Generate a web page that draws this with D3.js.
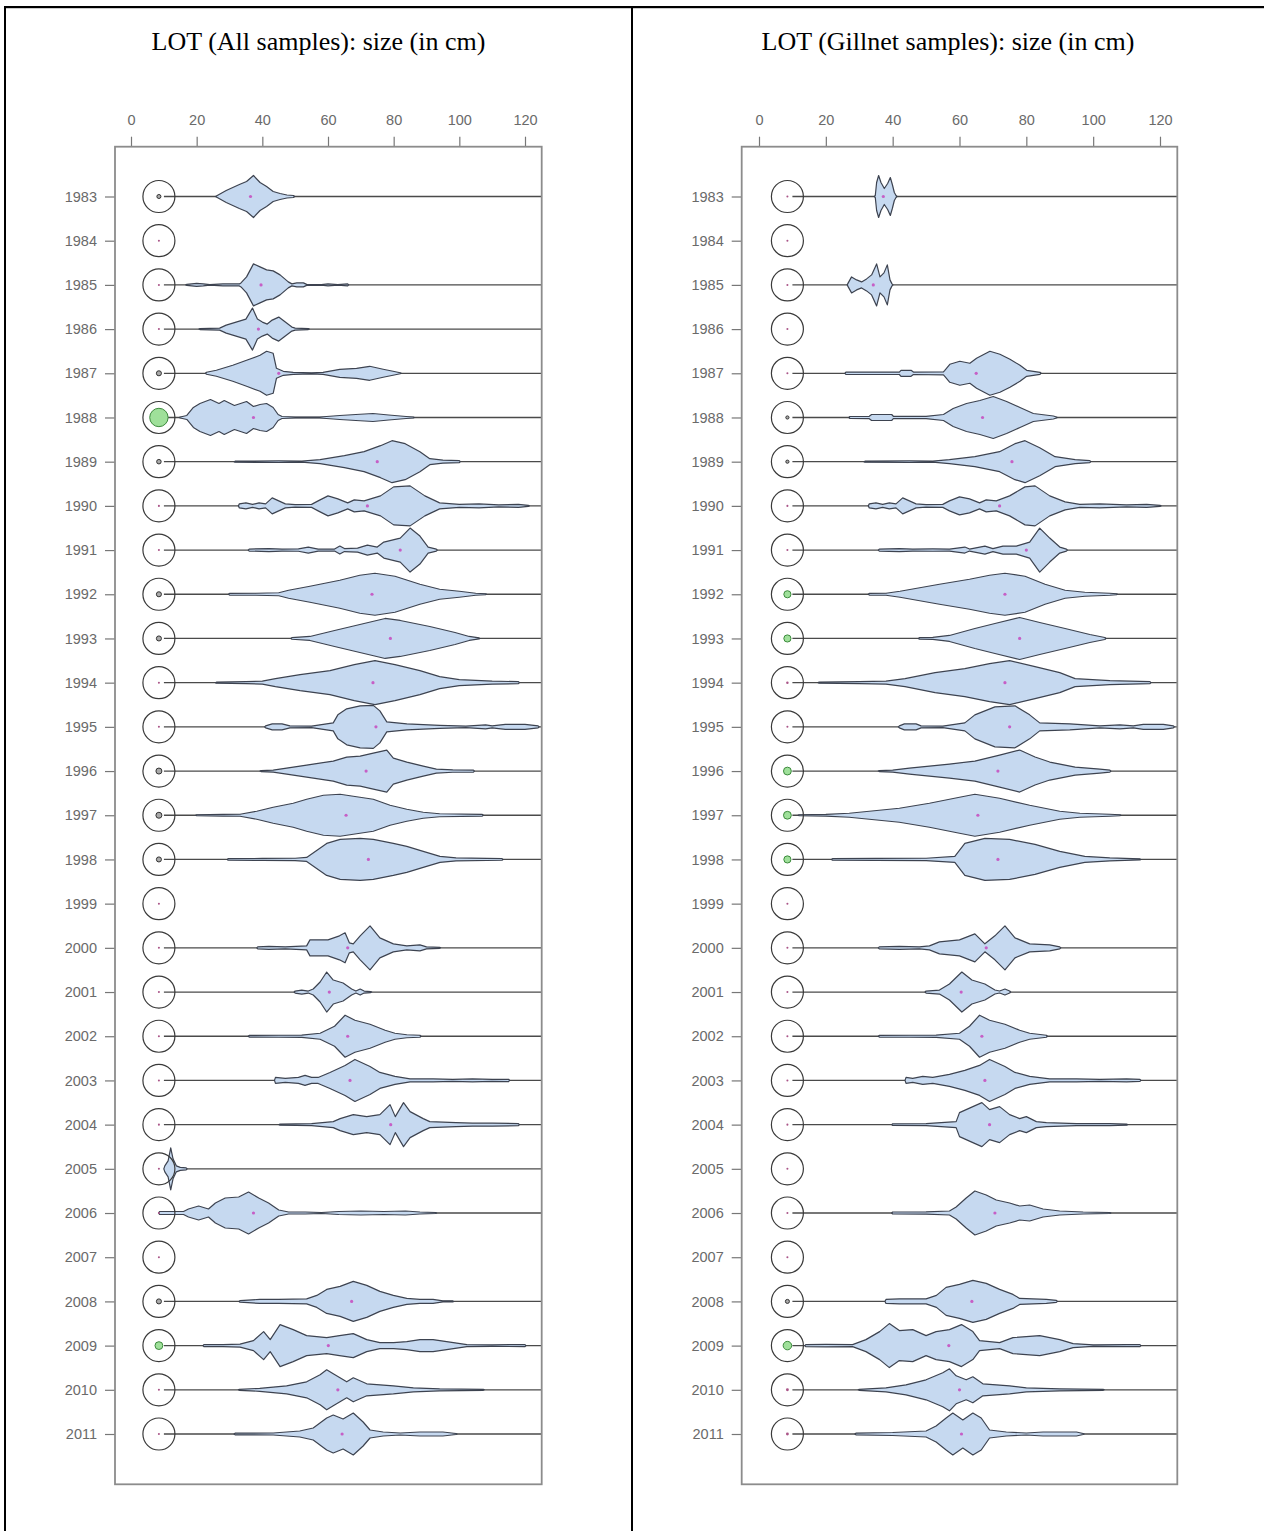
<!DOCTYPE html>
<html lang="en">
<head>
<meta charset="UTF-8">
<title>LOT size beanplots</title>
<script src="https://d3js.org/d3.v7.min.js"></script>
<style>
    body { margin: 0; background: #fff; }
    svg { display: block; }
</style>
</head>
<body>
<svg id="chart" width="1264" height="1531"></svg>
<script>
// ---- data ----
var years = d3.range(1983, 2012);
var sizeTicks = [0, 20, 40, 60, 80, 100, 120];
var titles = ["LOT (All samples): size (in cm)", "LOT (Gillnet samples): size (in cm)"];

// bean profiles, one per year: [size cm, relative density]; null = no data
var allBeans = [
  [[26,0.5],[29,6],[33,12],[35.2,15],[37.3,21],[39.3,14],[41.3,10],[43.3,5],[45.4,3],[47.5,1.5],[49.5,1]],
  null,
  [[17,0.5],[20,1.5],[22,1],[24,0.3],[28,1],[33,1],[33.5,2],[35.2,8],[37.3,21],[39.3,18],[41.3,15],[43.3,14],[45.4,10],[47.9,3],[49,1],[50.5,2],[52.5,2],[53.5,0.5],[58,0.3],[60,1],[63,0.3],[66,1]],
  [[21,0.5],[27,1],[29,4],[32,7],[35,10],[37,21],[38.5,10],[40,7],[41.5,5],[43,9],[45,12],[47,7],[49,2],[50,1],[54,0.5]],
  [[23,1],[26,3],[31,8],[35.2,13],[39.3,18],[41.3,22],[43.3,20],[44.3,5],[46.4,2],[49.4,1],[55,0.5],[58.5,1],[63.6,4],[68.7,5],[72.7,7],[76.8,4],[79.8,2],[82,0.5]],
  [[15,0.5],[17,2],[19,10],[21,14],[24.2,18],[26.8,14],[28.4,17],[31.5,12],[35.2,16],[37.3,11],[39.3,13],[41.3,14],[43.3,10],[44.8,3],[46,1],[50,0.5],[57.5,0.5],[63.6,2],[68.5,3],[73.7,4],[78.5,2.5],[83.8,1],[86,0.5]],
  [[31.7,0.5],[45,0.8],[52,0.5],[57.6,2],[65,6],[71,10],[76,16],[79.5,21],[83.5,18],[88,10],[91,3],[95,1.5],[100,1]],
  [[33,2],[35,3],[37,1.5],[39,3],[41,2],[43,8],[45,5],[47,2],[50,1.2],[55,1.5],[57,5],[60,10],[63,7],[66,3],[68,6],[71,5],[76,10],[80,19],[85,20],[89.5,10],[94,3],[100,1.5],[106,2],[112,1],[118,1.5],[121,0.5]],
  [[36,1],[42,1.5],[46,1],[51,1.2],[54,3],[57,1],[62,1],[63.6,4],[65,1.5],[69,2],[72,5],[75,3],[77,8],[82,12],[85,22],[88,14],[90.5,3],[93,1]],
  [[30,0.8],[38,1],[45,1.5],[48,4],[54.5,8],[63.6,14],[69.7,19],[74.3,21],[80.4,18],[88,10],[94,5],[100,3],[105,1],[108,0.5]],
  [[49,0.8],[54.5,2],[62,8],[69.7,14],[77.4,20],[82,18],[91,12],[98.7,6],[103,2],[106,0.5]],
  [[26,0.5],[35,1],[40,1.5],[44,4],[51.5,8],[60.6,12],[68,18],[74.3,22],[80.4,18],[88,12],[94,6],[100,3],[110,1.5],[118,1]],
  [[41,1],[43,3],[46,3],[48.4,1],[55,0.8],[61.6,4],[63,12],[65.7,18],[69.8,21],[73.8,21.5],[75.8,16],[77.9,5],[84,3],[94,1.5],[102,0.8],[108,2],[110,1],[114,2.5],[120,2.5],[124,1]],
  [[39.6,0.5],[43.3,1],[47.4,3],[53.5,6],[61.6,10],[65.7,14],[69.8,15],[73.8,18],[77.9,21],[79.9,13],[84,9],[89,5],[93,2],[98,1.2],[104.3,1]],
  [[20,0.5],[28,0.8],[33.2,1],[38.3,4],[43.3,8],[49.4,12],[53.5,16],[58.6,20],[63.7,21],[67.7,19],[73.8,16],[78.9,10],[84,6],[89,3],[94,1.5],[107,0.8]],
  [[29.6,0.8],[40,1],[50,1.2],[53.5,2],[59.6,16],[63.7,20],[69.8,21],[73.8,20],[79.9,16],[84,13],[89,8],[94.1,3],[99,1.5],[113,0.8]],
  null,
  [[38.6,1],[42,1.5],[47,1],[53.5,2],[54.5,8],[60,8],[63.5,12],[65.2,15],[66.5,5],[67.7,4],[69.8,12],[72.8,22],[75.8,10],[79.9,4],[84,2],[88,3],[90,1],[94,0.5]],
  [[50,1],[52,2],[54,1],[55.5,3],[57.6,10],[59.6,20],[61.6,12],[64.6,9],[67.2,3],[68.5,1],[69.8,3],[71,1],[73,0.5]],
  [[36,0.8],[45,1],[52,1.2],[57.6,3],[62,10],[65.2,21],[68.2,16],[72.8,12],[77.4,6],[80.4,3],[84,1.5],[88,1]],
  [[44,3],[47,2],[51,3],[53,5],[55,3],[57,3],[60.6,8],[65.2,15],[68.2,21],[72.8,14],[75.8,8],[80.4,4],[85,1.5],[92,1.5],[98,1],[104,1.5],[110,1],[115,1.2]],
  [[45.4,0.5],[55,1],[61.6,3],[63.7,6],[67.7,10],[71.8,8],[75.8,10],[78.9,20],[80.5,8],[83,22],[85,13],[89,6],[91,3],[99,2],[104,1.5],[110,1.5],[118,1]],
  [[10.3,3],[11.3,8],[12.1,21],[12.8,10],[13.8,3],[15,1.5],[16.8,1]],
  [[8.7,1.5],[16,1.5],[17.5,4],[20.6,7],[23.6,4],[25.7,10],[28.7,15],[32.8,16],[35.8,21],[38.9,15],[41.9,10],[45,3],[48,1],[53.1,1],[58,0.5],[63.3,1.5],[70,2],[77,1.5],[83.6,2],[88,1],[92.8,0.5]],
  null,
  [[33.2,0.8],[39.2,2],[45,2],[53.5,2.5],[56.6,6],[59.6,12],[63.7,15],[67.7,20],[71.8,16],[75.8,10],[79.9,6],[84,3],[88,2],[92,2],[95,0.5],[98,0.5]],
  [[22.2,1],[28,1],[33.2,1.5],[37.3,5],[40.4,14],[42.4,6],[45.4,21],[49.4,16],[53.5,10],[59.6,8],[63.5,10],[67.7,12],[71.8,6],[75.8,3],[80,3],[84,4],[88,6],[92,6],[98.2,3],[102.3,1],[110,0.8],[120,1]],
  [[33,0.5],[39.2,1.5],[47.4,4],[53.5,8],[57.6,15],[59.6,20],[61.6,16],[65.7,8],[67.7,12],[71.8,6],[79.9,4],[86,2],[94,1],[107.3,0.5]],
  [[31.7,0.8],[43.3,1],[51.4,3],[55.5,6],[59.6,16],[61.6,19],[64.6,15],[67.7,21],[70.7,12],[72.8,4],[76.8,2],[82,1],[88,2],[95,2],[99,0.5]]
];

var gillBeans = [
  [[34.8,1],[35.2,14],[35.8,21],[36.5,14],[37.5,8],[38.5,13],[39.3,19],[39.9,12],[40.5,4],[41,1]],
  null,
  [[26.7,2],[27.7,8],[29.2,5],[30.7,3],[32.2,6],[33.7,10],[35.2,21],[36.2,8],[37.4,12],[38.4,20],[39.2,5],[39.8,1]],
  null,
  [[26,1.2],[34,1.2],[42,1.2],[42.5,3],[45.5,3],[46.2,1.2],[55.2,1.5],[55.6,3],[57.1,9],[60.1,12],[63.1,10],[65.1,15],[69.1,22],[72.1,19],[75.1,14],[78.1,8],[80.1,3],[84.1,1]],
  [[27.2,1],[33,1.2],[33.7,3],[39.7,3],[40.2,1.2],[50,1.2],[55.2,3],[58.1,9],[62.1,14],[66.1,17],[70.1,21],[74.1,16],[78.1,10],[82.1,4],[88.1,1.5],[89,0.5]],
  [[31.7,0.5],[45,0.8],[52,0.5],[57,2],[64.6,5],[72,10],[76.6,18],[79.6,21],[84,14],[88.6,5],[94.6,2],[99,1]],
  [[33,2],[35,3],[37,1.5],[39,3],[41,2],[43,8],[45,5],[47,2],[50,1.2],[55,1.5],[57,5],[60,9],[63,7],[66,3],[68,6],[71,5],[75,10],[79.6,19],[82.6,20],[87,10],[91.6,4],[96,1.5],[102,2],[110,1],[116,1.5],[120,0.5]],
  [[36,1],[42,1.5],[46,1],[52,1.2],[57,1],[61.6,3],[63,1],[67.6,4],[70,1.5],[73,4],[77,4],[81,8],[84,22],[87,12],[90,3],[92,1]],
  [[33,0.8],[38,1],[42.2,3],[54,10],[63,15],[69,19],[73.6,21],[79.6,18],[85.6,10],[91.6,4],[97.5,2],[105,1],[107,0.5]],
  [[48,0.8],[52,1],[57,3],[64.6,10],[70.6,15],[78,21],[84,16],[91.6,10],[99,4],[103.5,1]],
  [[18,0.5],[30,1],[38,1.5],[43.7,4],[52.7,10],[61.6,14],[69,19],[75,22],[82.6,16],[90,10],[94.6,4],[105,2],[117,1]],
  [[42,1],[43.5,3],[47,3],[48.5,1],[55,0.8],[61.6,4],[64.6,12],[70.6,20],[76.6,21],[81,12],[84,4],[93,3],[102,1],[108,2],[112,1],[115,2.5],[121,2.5],[124,1]],
  [[36,0.5],[40,1],[45,3],[57,7],[64.6,10],[72,16],[78,21],[82.6,14],[87,9],[94.6,4],[102,2],[105,1]],
  [[12,0.5],[20,0.8],[27,2],[42,7],[51,12],[60,18],[64.6,21],[72,17],[81,10],[90,4],[96,2],[105,1],[108,0.5]],
  [[22,0.8],[35,1],[50,1.2],[58.6,3],[61.6,16],[67.6,21],[75,20],[82.6,15],[90,8],[97.5,3],[105,1.5],[114,0.5]],
  null,
  [[36,1],[42,1.5],[48,1],[51,2],[54,6],[60,8],[64.6,14],[67.6,4],[70.6,12],[73.6,22],[76.6,10],[81,4],[87,3],[90,1]],
  [[50,1],[54,2],[57,8],[60.7,20],[63.7,12],[67.6,8],[70.6,2],[72,1],[73.6,3],[75,1]],
  [[36,0.8],[45,1],[53,1.2],[60,3],[63,10],[66,21],[69,16],[73.6,12],[78,6],[81,3],[86,1]],
  [[44,3],[46,2],[49,4],[52,3],[57,6],[61.6,10],[66,15],[69,21],[73.6,14],[76.6,8],[81,4],[87,1.5],[95,1.5],[102,1],[110,1.5],[114,1]],
  [[40,0.8],[50,1],[59,3],[60,12],[64,18],[66.7,22],[69,15],[72,18],[75,10],[78,6],[80,8],[83,3],[86,2],[95,1],[105,1],[110,0.5]],
  null,
  [[40,1],[50,1.2],[57,2],[59,6],[62,15],[64.6,22],[68,18],[71,13],[75,10],[78,7],[81,8],[85,4],[90,2],[97,1],[105,0.5]],
  null,
  [[38,2],[42,2.5],[46,2.5],[50,2.5],[53.1,6],[56,14],[60,17],[64,21],[68,18],[72,12],[76,7],[78,3],[82,2.5],[86,2],[89,1]],
  [[14,1],[20,1.2],[28,1],[32,6],[36.1,14],[39,22],[42,15],[46,16],[50,10],[53,14],[57,16],[60.6,21],[64,14],[66,5],[72,3],[76,8],[84,10],[90,6],[94,2],[100,0.8],[110,1],[114,1]],
  [[30,0.5],[38,2],[44,5],[50,10],[55,17],[57,21],[59,14],[62,10],[64,13],[67,6],[75,4],[80,2],[90,1],[103,0.5]],
  [[29,0.8],[40,1.5],[50,3],[53,8],[56,16],[58,21],[61,14],[64,21],[66.5,16],[69,4],[74,2],[80,1],[85,2],[95,2],[97,0.5]]
];

// mean size per year (cm)
var allMeans = [36.4,null,39.6,38.8,45,37.3,75,72,82,73.4,79,73.7,74.6,71.6,65.5,72.3,null,66,60.4,66,66.7,79.1,null,37.3,null,67.2,60.1,63,64.3];
var gillMeans = [37.2,null,34.2,null,65,66.9,75.7,72,80,73.6,78,73.6,75,71.5,65.5,71.5,null,68,60.5,66.7,67.6,69,null,70.6,null,63.7,56.8,60,60.6];

// share shown by the inner circle, and years flagged in green
var allShare = [0.016,0.004,0.004,0.004,0.025,0.33,0.02,0.004,0.004,0.025,0.025,0.004,0.004,0.035,0.035,0.025,0.004,0.004,0.004,0.004,0.004,0.004,0.004,0.004,0.004,0.025,0.06,0.004,0.004];
var gillShare = [0.004,0.004,0.004,0.004,0.004,0.01,0.01,0.004,0.004,0.05,0.05,0.006,0.004,0.06,0.06,0.05,0.004,0.004,0.004,0.004,0.004,0.004,0.004,0.004,0.004,0.016,0.07,0.008,0.008];
var allGreen = [1988, 2009];
var gillGreen = [1992, 1993, 1996, 1997, 1998, 2009];

// ---- drawing ----
var svg = d3.select("#chart");

// table frame
svg.append("rect").attr("x", 4).attr("y", 6).attr("width", 1260).attr("height", 2.2).attr("fill", "#000");
svg.append("rect").attr("x", 4).attr("y", 6).attr("width", 2).attr("height", 1525).attr("fill", "#000");
svg.append("rect").attr("x", 631).attr("y", 6).attr("width", 2).attr("height", 1525).attr("fill", "#000");

var panels = [
  {title: titles[0], cx: 318.5, left: 115, right: 541.7, x0: 131, x120: 525,
   beans: allBeans, means: allMeans, share: allShare, green: allGreen},
  {title: titles[1], cx: 948, left: 741.7, right: 1177.3, x0: 759, x120: 1160,
   beans: gillBeans, means: gillMeans, share: gillShare, green: gillGreen}
];

var plotTop = 146.7, plotBottom = 1484.3;
var y = d3.scaleLinear().domain([1983, 2011]).range([196.5, 1434]);
var w = d3.scaleLinear().domain([0, 22]).range([0, 22]);
var rInner = d3.scaleSqrt().domain([0, 1]).range([0, 16]);

panels.forEach(function(p) {
  var x = d3.scaleLinear().domain([0, 120]).range([p.x0, p.x120]);
  var g = svg.append("g");

  g.append("text")
    .attr("x", p.cx).attr("y", 50)
    .attr("text-anchor", "middle")
    .attr("font-family", "'Liberation Serif', 'Times New Roman', serif")
    .attr("font-size", 26)
    .text(p.title);

  // axes
  var ax = g.append("g")
    .attr("transform", "translate(0," + plotTop + ")")
    .call(d3.axisTop(x).tickValues(sizeTicks).tickSize(10).tickPadding(12));
  var ay = g.append("g")
    .attr("transform", "translate(" + p.left + ",0)")
    .call(d3.axisLeft(y).tickValues(years).tickSize(10).tickPadding(8).tickFormat(d3.format("d")));
  [ax, ay].forEach(function(a) {
    a.select(".domain").remove();
    a.selectAll("line").attr("stroke", "#777").attr("stroke-width", 1.2);
    a.selectAll("text").attr("fill", "#6a6a6a")
      .attr("font-family", "'Liberation Sans', Arial, sans-serif").attr("font-size", 14.5);
  });

  var circleX = x(8.5);
  var area = d3.area()
    .x(function(d) { return x(d[0]); })
    .curve(d3.curveLinear);

  years.forEach(function(yr, i) {
    var cy = y(yr);
    var prof = p.beans[i];
    if (prof) {
      g.append("line")
        .attr("x1", circleX + 5).attr("x2", p.right)
        .attr("y1", cy).attr("y2", cy)
        .attr("stroke", "#4a4a4a").attr("stroke-width", 1.3);

      var pts = [[prof[0][0] - 0.3, 0]].concat(prof, [[prof[prof.length - 1][0] + 0.3, 0]]);
      area.y0(function(d) { return cy - w(d[1]); })
          .y1(function(d) { return cy + w(d[1]); });
      g.append("path")
        .attr("d", area(pts))
        .attr("fill", "#c6d9f0")
        .attr("stroke", "#3d4350")
        .attr("stroke-width", 1.2)
        .attr("stroke-linejoin", "round");
    }

    // sample circle
    g.append("circle")
      .attr("cx", circleX).attr("cy", cy).attr("r", 16)
      .attr("fill", "none").attr("stroke", "#3a3a3a").attr("stroke-width", 1.2);

    var r = rInner(p.share[i]);
    var isGreen = p.green.indexOf(yr) >= 0;
    g.append("circle")
      .attr("cx", circleX).attr("cy", cy).attr("r", r)
      .attr("fill", isGreen ? "#9fe09a" : (r < 1.6 ? "#a58" : "#aaa"))
      .attr("stroke", isGreen ? "#3c8a3c" : (r < 1.6 ? "none" : "#333"))
      .attr("stroke-width", 1);

    if (p.means[i] != null) {
      g.append("circle")
        .attr("cx", x(p.means[i])).attr("cy", cy).attr("r", 1.6)
        .attr("fill", "#c65fc6");
    }
  });

  // plot box
  g.append("rect")
    .attr("x", p.left).attr("y", plotTop)
    .attr("width", p.right - p.left).attr("height", plotBottom - plotTop)
    .attr("fill", "none").attr("stroke", "#8c8c8c").attr("stroke-width", 1.8);
});
</script>
</body>
</html>
